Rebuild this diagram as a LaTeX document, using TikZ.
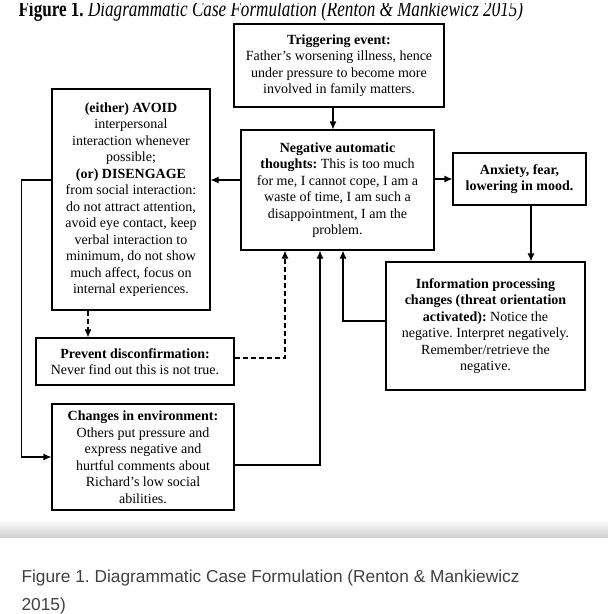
\documentclass[tikz,border=0pt]{standalone}
\usepackage{fontspec}
\setmainfont{Liberation Serif}
\newfontfamily\capfont{Liberation Sans}
\usetikzlibrary{arrows.meta,calc}

\begin{document}
\frenchspacing
\begin{tikzpicture}[x=1pt, y=-1pt, line width=1.1pt,
    box/.style={draw, align=center, inner sep=2pt, font=\fontsize{14}{16.5}\selectfont},
    arr/.style={-{Latex[length=8pt,width=7pt]}},
    darr/.style={arr, dashed, dash pattern=on 5pt off 3pt}]
\useasboundingbox (0,0) rectangle (608,614);
% Title, cut off at the top
\begin{scope}
\clip (0,3) rectangle (608,40);
\node[anchor=base west, inner sep=0pt, font=\fontsize{17.1}{20}\selectfont] (title) at (18,16.7)
    {\scalebox{1}[1.3]{\textbf{Figure 1.} \textit{Diagrammatic Case Formulation (Renton \& Mankiewicz 2015)}}};
\end{scope}
% Draw boxes
\node[box, minimum width=210, minimum height=83] (trig) at (339,65.5)
    {\textbf{Triggering event:}\\ Father's worsening illness, hence\\ under pressure to become more\\ involved in family matters.};
\node[box, minimum width=193, minimum height=120] (nat) at (337.5,190)
    {\textbf{Negative automatic}\\ \textbf{thoughts:} This is too much\\ for me, I cannot cope, I am a\\ waste of time, I am such a\\ disappointment, I am the\\ problem.};
\node[box, minimum width=158, minimum height=221] (avoid) at (131,199.5)
    {\textbf{(either) AVOID}\\ interpersonal\\ interaction whenever\\ possible;\\ \textbf{(or) DISENGAGE}\\ from social interaction:\\ do not attract attention,\\ avoid eye contact, keep\\ verbal interaction to\\ minimum, do not show\\ much affect, focus on\\ internal experiences.};
\node[box, minimum width=133, minimum height=52] (anx) at (519.5,179)
    {\textbf{Anxiety, fear,}\\ \textbf{lowering in mood.}};
\node[box, minimum width=199, minimum height=128] (info) at (485.5,326)
    {\textbf{Information processing}\\ \textbf{changes (threat orientation}\\ \textbf{activated):} Notice the\\ negative. Interpret negatively.\\ Remember/retrieve the\\ negative.};
\node[box, minimum width=198, minimum height=47] (prev) at (135,361.5)
    {\textbf{Prevent disconfirmation:}\\ Never find out this is not true.};
\node[box, minimum width=182, minimum height=106] (env) at (143,457)
    {\textbf{Changes in environment:}\\ Others put pressure and\\ express negative and\\ hurtful comments about\\ Richard's low social\\ abilities.};
% Draw arrows
\draw[arr] ([xshift=-4.5pt]nat.north |- trig.south) -- ([xshift=-4.5pt]nat.north);
\draw[arr] ([yshift=10pt]nat.west) -- ([yshift=10pt]nat.west -| avoid.east);
\draw[arr] (anx.west -| nat.east) -- (anx.west);
\draw[arr] ([xshift=11.5pt]anx.south) -- ([xshift=11.5pt]anx.south |- info.north);
\draw[arr] ([yshift=5pt]info.west) -| ([xshift=5.5pt]nat.south);
\draw[darr] ([xshift=-43pt]avoid.south) -- ([xshift=-43pt]avoid.south |- prev.north);
\draw[darr] ([yshift=3.5pt]prev.east) -| ([xshift=-52.5pt]nat.south);
\draw[arr] ([yshift=19.5pt]avoid.west) -- ++(-30,0) |- (env.west);
\draw[arr] ([yshift=-8pt]env.east) -| ([xshift=-17.5pt]nat.south);
% Page edge and caption
\shade[top color=white, bottom color=black!18] (0,519) rectangle (608,537);
\node[anchor=base west, inner sep=0pt, align=left, text=black!75,
    font=\capfont\fontsize{17.3}{28}\selectfont] (cap) at (21,610)
    {Figure 1. Diagrammatic Case Formulation (Renton \& Mankiewicz\\ 2015)};
\end{tikzpicture}
\end{document}
